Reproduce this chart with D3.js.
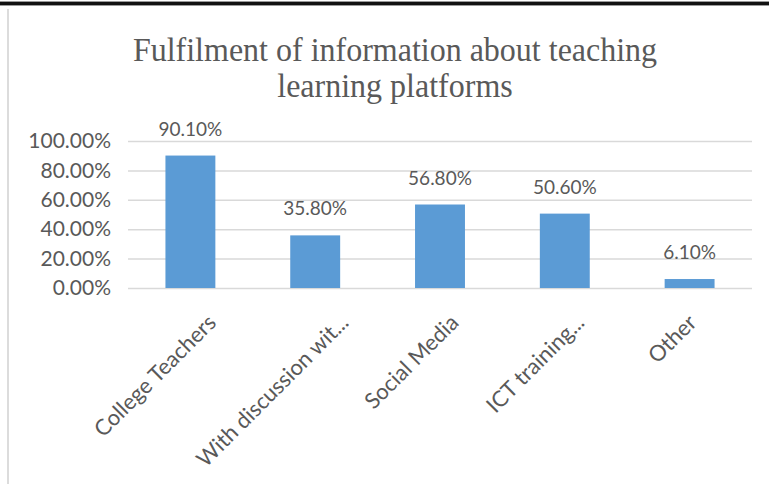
<!DOCTYPE html>
<html>
<head>
<meta charset="utf-8">
<script src="https://cdn.jsdelivr.net/npm/d3@7"></script>
<style>
  html, body { margin: 0; padding: 0; background: #fff; }
  svg { display: block; }
</style>
</head>
<body>
<svg id="chart" width="769" height="484"></svg>
<script>
// Sources through which respondents got information about teaching-learning platforms
const categories = ["College Teachers", "With discussion wit...", "Social Media", "ICT training...", "Other"];
const percentValues = [90.1, 35.8, 56.8, 50.6, 6.1];
const yTicks = [0, 20, 40, 60, 80, 100];
const titleLines = ["Fulfilment of information about teaching", "learning platforms"];

const svg = d3.select("#chart");
const W = 769, H = 484;
const plot = { left: 128, right: 752, top: 141, bottom: 288 };
const textGray = "#595959";
const labelFont = "Lato, 'Open Sans', sans-serif";

// frame: heavy rule across the top, light rule down the left side
svg.append("rect").attr("x", 0).attr("y", 1).attr("width", W).attr("height", 5).attr("fill", "#9a9a9a");
svg.append("rect").attr("x", 0).attr("y", 2).attr("width", W).attr("height", 3).attr("fill", "#111");
svg.append("rect").attr("x", 7).attr("y", 9).attr("width", 2).attr("height", H - 9).attr("fill", "#dcdcdc");

// title, set in a slightly tall serif face
svg.append("g").selectAll("text").data(titleLines).join("text")
  .attr("text-anchor", "middle")
  .attr("transform", (d, i) => `translate(395,${61 + i * 36}) scale(1,1.08)`)
  .attr("font-family", "'Liberation Serif', 'Times New Roman', serif")
  .attr("font-size", 32)
  .attr("fill", textGray)
  .text(d => d);

const x = d3.scaleBand()
  .domain(categories)
  .range([plot.left, plot.right])
  .paddingInner(0.6)
  .paddingOuter(0.3);

const y = d3.scaleLinear()
  .domain([0, 100])
  .range([plot.bottom, plot.top]);

// horizontal gridlines and percentage axis
const yAxis = d3.axisLeft(y)
  .tickValues(yTicks)
  .tickSize(-(plot.right - plot.left))
  .tickPadding(17)
  .tickFormat(d => d.toFixed(2) + "%");

const gy = svg.append("g")
  .attr("transform", `translate(${plot.left},0)`)
  .call(yAxis);
gy.select(".domain").remove();
gy.selectAll(".tick line").attr("stroke", "#d9d9d9").attr("stroke-width", 1.5);
gy.selectAll(".tick text")
  .attr("font-family", labelFont)
  .attr("font-size", 21)
  .attr("fill", textGray);

// bars
svg.append("g").selectAll("rect").data(percentValues).join("rect")
  .attr("x", (d, i) => x(categories[i]))
  .attr("y", d => y(d))
  .attr("width", x.bandwidth())
  .attr("height", d => y(0) - y(d))
  .attr("fill", "#5b9bd5");

// value labels above the bars
svg.append("g").selectAll("text").data(percentValues).join("text")
  .attr("x", (d, i) => x(categories[i]) + x.bandwidth() / 2)
  .attr("y", d => y(d) - 20)
  .attr("text-anchor", "middle")
  .attr("font-family", labelFont)
  .attr("font-size", 19)
  .attr("fill", textGray)
  .text(d => d.toFixed(2) + "%");

// slanted category labels; longer labels sit a little further right of their bar
const catLabels = svg.append("g").selectAll("text").data(categories).join("text")
  .attr("text-anchor", "end")
  .attr("font-family", labelFont)
  .attr("font-size", 22)
  .attr("fill", textGray)
  .text(d => d);

catLabels.attr("transform", function (d) {
  const len = this.getComputedTextLength();
  const cx = x(d) + x.bandwidth() / 2 + 0.18 * len - 2;
  return `translate(${cx},${plot.bottom + 36}) rotate(-45)`;
});
</script>
</body>
</html>
